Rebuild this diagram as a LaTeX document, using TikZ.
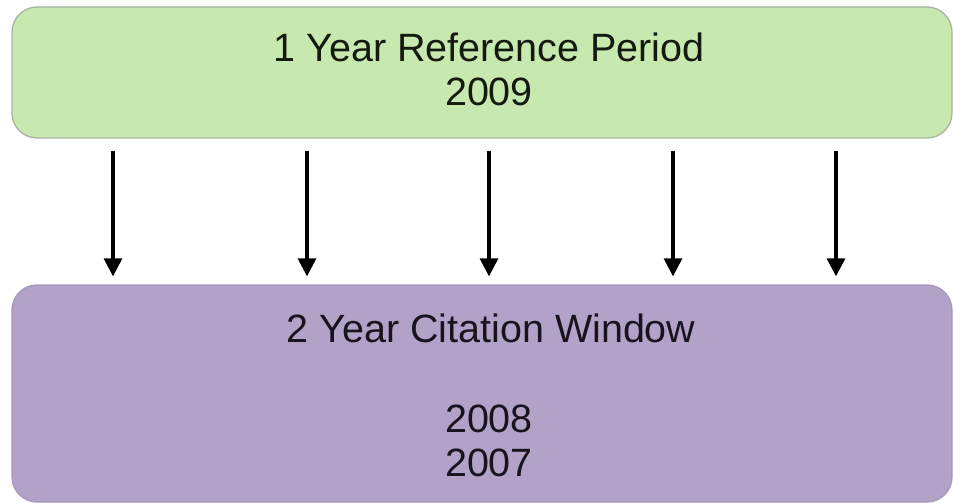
\documentclass[tikz,border=0pt]{standalone}
\usepackage{fontspec}
\setmainfont{Liberation Sans}
\usetikzlibrary{arrows.meta}
\definecolor{greenfill}{HTML}{C7E8AE}
\definecolor{greenborder}{HTML}{A9B3A2}
\definecolor{purplefill}{HTML}{B2A2C8}
\definecolor{purpleborder}{HTML}{A697BC}
\definecolor{txtgreen}{HTML}{141A10}
\definecolor{txtpurple}{HTML}{18141F}
\tikzset{
  box/.style={rounded corners=25pt, minimum width=940pt, inner sep=0pt, line width=1.3pt},
  lbl/.style={anchor=base, inner sep=0pt, font=\fontsize{39.5}{45}\selectfont},
  arr/.style={line width=3.2pt, -{Triangle[length=18pt,width=18pt]}, shorten <=12pt, shorten >=8pt},
}
\begin{document}
\begin{tikzpicture}
\useasboundingbox (0,0) rectangle (953pt,-503pt);
\fill[white] (0,0) rectangle (953pt,-503pt);
\node[box, draw=greenborder, fill=greenfill, minimum height=131pt] (top) at (482pt,-72.5pt) {};
\node[box, draw=purpleborder, fill=purplefill, minimum height=217pt] (bot) at (482pt,-393.5pt) {};
\node[lbl, text=txtgreen] (t1) at (489pt,-62pt) {1 Year Reference Period};
\node[lbl, text=txtgreen] (t2) at (489pt,-105pt) {2009};
\node[lbl, text=txtpurple] (b1) at (491pt,-342pt) {2 Year Citation Window};
\node[lbl, text=txtpurple] (b2) at (489pt,-432pt) {2008};
\node[lbl, text=txtpurple] (b3) at (489pt,-476pt) {2007};
\coordinate (c1) at (113pt,0);
\coordinate (c2) at (307pt,0);
\coordinate (c3) at (489pt,0);
\coordinate (c4) at (673pt,0);
\coordinate (c5) at (836pt,0);
\foreach \c in {c1,c2,c3,c4,c5}
  \draw[arr] (top.south -| \c) -- (bot.north -| \c);
\end{tikzpicture}
\end{document}
